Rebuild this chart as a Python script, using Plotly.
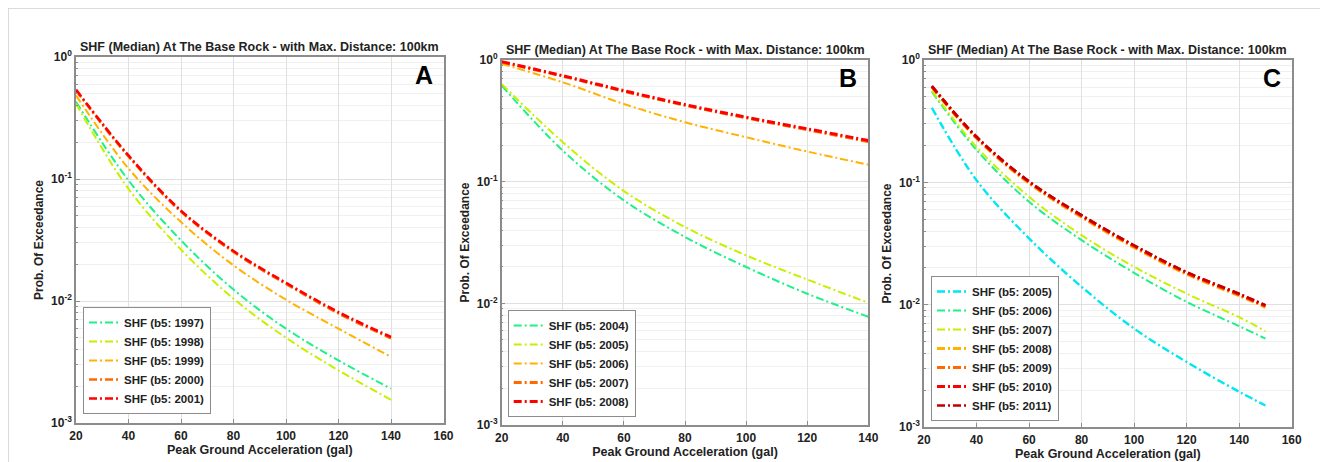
import plotly.graph_objects as go

# ---------------- data ----------------
pga_a = [20, 40, 60, 80, 100, 120, 140]
a_1997 = [0.43, 0.0975, 0.0314, 0.0124, 0.00593, 0.00326, 0.00191]
a_1998 = [0.414, 0.083, 0.0264, 0.01045, 0.0050, 0.0027, 0.00155]
a_1999 = [0.485, 0.122, 0.0444, 0.0196, 0.01025, 0.00593, 0.00348]
a_2000 = [0.53, 0.153, 0.054, 0.0252, 0.0138, 0.0079, 0.00495]
a_2001 = [0.54, 0.156, 0.055, 0.0257, 0.0141, 0.0081, 0.00507]

pga_b = [20, 40, 60, 80, 100, 120, 140]
b_2004 = [0.616, 0.18, 0.0702, 0.0351, 0.0199, 0.012, 0.00776]
b_2005 = [0.635, 0.211, 0.0837, 0.0424, 0.0248, 0.0157, 0.0101]
b_2006 = [0.93, 0.656, 0.435, 0.308, 0.232, 0.177, 0.138]
b_2007 = [0.96, 0.735, 0.552, 0.424, 0.334, 0.267, 0.213]
b_2008 = [0.97, 0.743, 0.56, 0.43, 0.339, 0.272, 0.218]

pga_c = [23, 40, 60, 80, 100, 120, 140, 150]
c_2005 = [0.407, 0.104, 0.0348, 0.014, 0.00638, 0.0034, 0.00194, 0.0015]
c_2006 = [0.55, 0.184, 0.0693, 0.0337, 0.0182, 0.01054, 0.00667, 0.00528]
c_2007 = [0.561, 0.195, 0.0762, 0.037, 0.0204, 0.0123, 0.0079, 0.00607]
c_2008 = [0.60, 0.229, 0.098, 0.0518, 0.0293, 0.0177, 0.0118, 0.0095]
c_2009 = [0.605, 0.232, 0.1, 0.0528, 0.0299, 0.0181, 0.0120, 0.0097]
c_2010 = [0.61, 0.235, 0.101, 0.0535, 0.0303, 0.0183, 0.0122, 0.0098]
c_2011 = [0.612, 0.236, 0.102, 0.054, 0.0306, 0.0185, 0.0123, 0.0099]

panel_titles = ["SHF (Median) At The Base Rock - with Max. Distance: 100km"] * 3
panel_letters = ["A", "B", "C"]
x_title = "Peak Ground Acceleration (gal)"
y_title = "Prob. Of Exceedance"
y_tickvals = [1e-3, 1e-2, 1e-1, 1]
y_ticktext = ["10<sup>-3</sup>", "10<sup>-2</sup>", "10<sup>-1</sup>", "10<sup>0</sup>"]

GREEN = "#1ef08a"
YELLOW = "#c6f000"
ORANGE = "#ffb300"
ORED = "#ff6a00"
RED = "#ff0000"
DRED = "#c00000"
CYAN = "#00e6f2"

panels = [
    (pga_a, [("SHF (b5: 1997)", a_1997, GREEN, 2), ("SHF (b5: 1998)", a_1998, YELLOW, 2),
             ("SHF (b5: 1999)", a_1999, ORANGE, 2), ("SHF (b5: 2000)", a_2000, ORED, 2.5),
             ("SHF (b5: 2001)", a_2001, RED, 2.6)]),
    (pga_b, [("SHF (b5: 2004)", b_2004, GREEN, 2), ("SHF (b5: 2005)", b_2005, YELLOW, 2),
             ("SHF (b5: 2006)", b_2006, ORANGE, 2), ("SHF (b5: 2007)", b_2007, ORED, 2.8),
             ("SHF (b5: 2008)", b_2008, RED, 3)]),
    (pga_c, [("SHF (b5: 2005)", c_2005, CYAN, 2.4), ("SHF (b5: 2006)", c_2006, GREEN, 2),
             ("SHF (b5: 2007)", c_2007, YELLOW, 2), ("SHF (b5: 2008)", c_2008, ORANGE, 2.8),
             ("SHF (b5: 2009)", c_2009, ORED, 3), ("SHF (b5: 2010)", c_2010, RED, 3),
             ("SHF (b5: 2011)", c_2011, DRED, 2.4)]),
]

W, H = 1328, 462
OFF = 8  # the page body adds an 8px margin around the figure


def px(v):
    return (v - OFF) / W


def py(v):
    return 1 - (v - OFF) / H


# page-pixel boxes of the plot areas (left, right, top, bottom)
boxes = [(76, 443.5, 57, 423), (501.7, 868.3, 60, 425), (924, 1291.7, 60, 427)]
x_ranges = [(20, 160), (20, 140), (20, 160)]
legend_pos = [(83, 414), (507.7, 417), (931, 421)]

FONT = "Liberation Sans"
TXT = "#222222"
fig = go.Figure()

minor_vals = [m * 10 ** e for e in (-3, -2, -1) for m in range(2, 10)]

for i, (pga, series) in enumerate(panels):
    xa = "x" if i == 0 else f"x{i+1}"
    ya = "y" if i == 0 else f"y{i+1}"
    lg = "legend" if i == 0 else f"legend{i+1}"
    for name, vals, col, lw in series:
        fig.add_trace(go.Scatter(
            x=pga, y=vals, name=name, mode="lines", xaxis=xa, yaxis=ya, legend=lg,
            line=dict(color=col, width=lw, dash="8px,3px,2px,3px", shape="spline", smoothing=1.0),
        ))
    l, r, t, b = boxes[i]
    xkey = "xaxis" if i == 0 else f"xaxis{i+1}"
    ykey = "yaxis" if i == 0 else f"yaxis{i+1}"
    x0, x1 = x_ranges[i]
    fig.update_layout(**{
        xkey: dict(domain=[px(l), px(r)], range=[x0, x1], anchor=ya, dtick=20,
                   showgrid=True, gridcolor="#e0e0e0", gridwidth=1, automargin=False,
                   showline=True, linecolor="#8c8c8c", linewidth=1.5, mirror=True,
                   ticks="inside", ticklen=4, tickcolor="#8c8c8c", zeroline=False,
                   ticklabelstandoff=1,
                   tickfont=dict(family=FONT, size=12, color=TXT, weight="bold"),
                   title=dict(text=x_title, standoff=2,
                              font=dict(family=FONT, size=12.5, color=TXT, weight="bold"))),
        ykey: dict(domain=[py(b), py(t)], type="log", range=[-3, 0], anchor=xa,
                   tickvals=y_tickvals, ticktext=y_ticktext, automargin=False,
                   showgrid=True, gridcolor="#e0e0e0", gridwidth=1,
                   minor=dict(tickvals=minor_vals, showgrid=True, gridcolor="#f0f0f0",
                              ticks="inside", ticklen=2, tickcolor="#8c8c8c"),
                   showline=True, linecolor="#8c8c8c", linewidth=1.5, mirror=True,
                   ticks="inside", ticklen=4, tickcolor="#8c8c8c", zeroline=False,
                   tickfont=dict(family=FONT, size=12, color=TXT, weight="bold"),
                   title=dict(text=y_title, standoff=5,
                              font=dict(family=FONT, size=12, color=TXT, weight="bold"))),
    })
    lx, ly = legend_pos[i]
    fig.update_layout(**{lg: dict(
        x=px(lx), y=py(ly), xanchor="left", yanchor="bottom",
        bgcolor="white", bordercolor="#8c8c8c", borderwidth=1,
        font=dict(family=FONT, size=11.5, color=TXT, weight="bold"),
        itemwidth=30, tracegroupgap=0,
    )})
    fig.add_annotation(x=px((l + r) / 2), y=py(t - 10), xref="paper", yref="paper",
                       text=panel_titles[i], showarrow=False,
                       xanchor="center", yanchor="middle",
                       font=dict(family=FONT, size=12.5, color=TXT, weight="bold"))
    fig.add_annotation(x=px(r - 9), y=py(t + 18), xref="paper", yref="paper",
                       text=panel_letters[i], showarrow=False,
                       xanchor="right", yanchor="middle",
                       font=dict(family=FONT, size=25, color="#000000", weight="bold"))

# light frame around the figure
fig.add_shape(type="line", xref="paper", yref="paper", x0=0, x1=1, y0=py(8), y1=py(8),
              line=dict(color="#cfcfcf", width=1.5))
fig.add_shape(type="line", xref="paper", yref="paper", x0=px(8), x1=px(8), y0=0, y1=py(8),
              line=dict(color="#cfcfcf", width=1.5))

fig.update_layout(width=W, height=H, margin=dict(l=0, r=0, t=0, b=0, autoexpand=False),
                  paper_bgcolor="white", plot_bgcolor="white", showlegend=True)

fig.write_html("out.html")
